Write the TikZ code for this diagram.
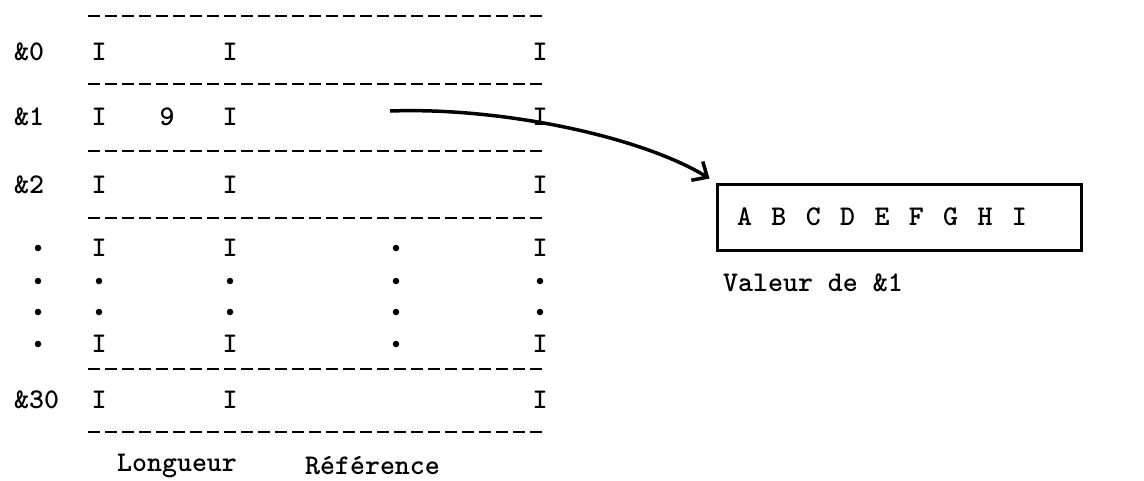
\documentclass[tikz,border=0pt]{standalone}
\usepackage{fontspec}
\usetikzlibrary{arrows.meta}
\begin{document}
\begin{tikzpicture}[x=1pt,y=-1pt,
  txt/.style={inner sep=0pt, font=\fontsize{28.5}{32}\ttfamily\bfseries},
  sep/.style={line width=2.3pt, dash pattern=on 12pt off 5pt},
  dot/.style={circle, fill, inner sep=0pt, minimum size=6.5pt},
  valbox/.style={draw, line width=3pt, minimum width=364pt, minimum height=66pt,
                 inner sep=0pt, font=\fontsize{28.5}{32}\ttfamily\bfseries},
  link/.style={line width=3.5pt, -{Straight Barb[length=12pt,width=22pt,line width=3.5pt]}}]
\useasboundingbox (0,0) rectangle (1144,480);

% dashed separators of the table
\foreach \y/\n in {16/s0,84/s1,151/s2,218/s3,369/s4,432/s5}
  \draw[sep] (88,\y) coordinate (\n l) -- (543,\y) coordinate (\n r);

% numbered rows: label, length column, reference column
\foreach \y/\lab/\n in {52/{\&0}/r0, 117/{\&1}/r1, 185/{\&2}/r2, 400/{\&30}/r30} {
  \node[txt, anchor=west] (\n lab) at (14,\y) {\lab};
  \node[txt] (\n a) at (99,\y) {I};
  \node[txt] (\n b) at (230,\y) {I};
  \node[txt] (\n c) at (540,\y) {I};
}
\node[txt] (len1) at (167,117) {9};

% elided rows
\foreach \y/\n in {248/e0,344/e3} {
  \node[dot] (\n lab) at (38,\y) {};
  \node[txt] (\n a) at (99,\y) {I};
  \node[txt] (\n b) at (230,\y) {I};
  \node[dot] (\n r) at (396,\y) {};
  \node[txt] (\n c) at (540,\y) {I};
}
\foreach \y/\n in {281/e1,312/e2} {
  \node[dot] (\n lab) at (38,\y) {};
  \node[dot] (\n a) at (99,\y) {};
  \node[dot] (\n b) at (230,\y) {};
  \node[dot] (\n r) at (396,\y) {};
  \node[dot] (\n c) at (540,\y) {};
}

% column captions
\node[txt, anchor=west] (caplen) at (117,466) {Longueur};
\node[txt, anchor=west] (capref) at (305,466) {Référence};

% value of &1
\node[valbox] (val) at (899,217) {\spaceskip=19.4pt\relax A B C D E F G H I\kern34pt};
\node[txt, anchor=west] (valcap) at (723,283) {Valeur de \&1};

% reference pointer
\coordinate (ref1) at (390,111);
\draw[link] (ref1) .. controls (500,107) and (640,136) .. ([shift={(-6,-4)}]val.north west);
\end{tikzpicture}
\end{document}
